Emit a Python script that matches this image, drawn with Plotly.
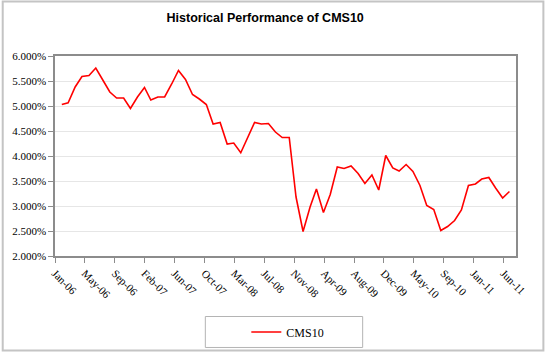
import pandas as pd
import plotly.graph_objects as go

# Monthly observation dates (month ends), Jan-06 .. Jun-11
dates = pd.date_range("2006-01-31", periods=66, freq="ME")

# CMS10 rate, in percent
cms10 = [
    5.03, 5.065, 5.38, 5.59, 5.61, 5.76, 5.52, 5.28, 5.16, 5.16,
    4.95, 5.18, 5.37, 5.12, 5.18, 5.18, 5.44, 5.71, 5.53, 5.23,
    5.14, 5.03, 4.64, 4.67, 4.24, 4.26, 4.065, 4.37, 4.67, 4.64,
    4.65, 4.48, 4.37, 4.37, 3.18, 2.49, 2.98, 3.34, 2.87, 3.23,
    3.78, 3.75, 3.80, 3.65, 3.45, 3.62, 3.32, 4.01, 3.76, 3.70,
    3.83, 3.69, 3.41, 3.01, 2.93, 2.51, 2.59, 2.71, 2.92, 3.41,
    3.44, 3.54, 3.57, 3.36, 3.16, 3.29,
]

# Date-axis tick labels (Excel date axis, major unit 132 days from 1-Jan-2006)
tick_labels = ["Jan-06", "May-06", "Sep-06", "Feb-07", "Jun-07", "Oct-07",
               "Mar-08", "Jul-08", "Nov-08", "Apr-09", "Aug-09", "Dec-09",
               "May-10", "Sep-10", "Jan-11", "Jun-11"]
tick_dates = pd.date_range("2006-01-01", periods=len(tick_labels), freq="132D")

y_ticks = [2.0, 2.5, 3.0, 3.5, 4.0, 4.5, 5.0, 5.5, 6.0]
y_tick_labels = ["2.000%", "2.500%", "3.000%", "3.500%", "4.000%",
                 "4.500%", "5.000%", "5.500%", "6.000%"]

serif = "Liberation Serif, Times New Roman, serif"
frame = "#8c8c8c"

fig = go.Figure()
fig.add_trace(go.Scatter(
    x=dates, y=cms10, mode="lines", name="CMS10",
    line=dict(color="#ff0000", width=1.6),
))

fig.update_layout(
    width=549, height=359,
    margin=dict(l=53, r=33, t=56, b=99),
    paper_bgcolor="white", plot_bgcolor="white",
    title=dict(text="<b>Historical Performance of CMS10</b>",
               x=0.483, xref="container", xanchor="center",
               y=0.95, yref="container", yanchor="middle",
               font=dict(family="Liberation Sans, Arial, sans-serif", size=12.5, color="black")),
    showlegend=True,
    legend=dict(x=0.415, xanchor="left", y=-0.38, yanchor="middle",
                bgcolor="rgba(0,0,0,0)", borderwidth=0,
                font=dict(family=serif, size=12, color="black")),
    xaxis=dict(
        type="date", range=["2006-01-01", "2011-07-29"],
        tickvals=list(tick_dates), ticktext=tick_labels, tickangle=45,
        showgrid=False, zeroline=False,
        showline=True, linecolor=frame, linewidth=1.5, mirror=True,
        ticks="outside", ticklen=5, tickcolor=frame, tickwidth=1,
        tickfont=dict(family=serif, size=11, color="black"),
    ),
    yaxis=dict(
        range=[2.0, 6.0], tickvals=y_ticks, ticktext=y_tick_labels,
        showgrid=True, gridcolor="#e6e6e6", gridwidth=1, zeroline=False,
        showline=True, linecolor=frame, linewidth=1.5, mirror=True,
        ticks="outside", ticklen=5, tickcolor=frame, tickwidth=1,
        tickfont=dict(family=serif, size=11, color="black"),
    ),
    shapes=[
        # outer chart border
        dict(type="rect", xref="paper", yref="paper",
             x0=-0.1134, x1=1.0594, y0=-0.473, y1=1.272,
             line=dict(color="#c4c4c4", width=2), fillcolor="rgba(0,0,0,0)", layer="below"),
        # legend box
        dict(type="rect", xref="paper", yref="paper",
             x0=0.3261, x1=0.6674, y0=-0.4574, y1=-0.3025,
             line=dict(color="#b4b4b4", width=1), fillcolor="rgba(0,0,0,0)"),
    ],
)

fig.write_html("out.html",
               config={"displayModeBar": False},
               post_script="document.body.style.margin='0';document.body.style.overflow='hidden';")
